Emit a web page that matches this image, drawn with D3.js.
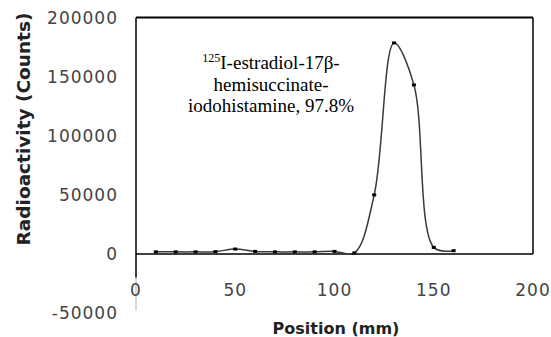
<!DOCTYPE html>
<html>
<head>
<meta charset="utf-8">
<script src="https://cdn.jsdelivr.net/npm/d3@7"></script>
<style>
  html, body { margin: 0; padding: 0; background: #fff; }
</style>
</head>
<body>
<div id="chart"></div>
<script>
const positions = [10, 20, 30, 40, 50, 60, 70, 80, 90, 100, 110, 120, 130, 140, 150, 160];
const counts = [1800, 1800, 1800, 2000, 4200, 2200, 1800, 1800, 1800, 2200, 900, 50000, 178500, 143000, 5600, 2800];
const xTicks = [0, 50, 100, 150, 200];
const yTicks = [-50000, 0, 50000, 100000, 150000, 200000];
const labelLines = ["I-estradiol-17\u03b2-", "hemisuccinate-", "iodohistamine, 97.8%"];

const width = 551, height = 337;

const svg = d3.select("#chart").append("svg")
  .attr("width", width)
  .attr("height", height);

const x = d3.scaleLinear().domain([0, 200]).range([136, 533]);
const y = d3.scaleLinear().domain([0, 200000]).range([254, 17.5]);

// frame: top and right edges
svg.append("line")
  .attr("x1", x(0)).attr("x2", x(200))
  .attr("y1", y(200000)).attr("y2", y(200000))
  .attr("stroke", "#000").attr("stroke-width", 2);
svg.append("line")
  .attr("x1", x(200)).attr("x2", x(200))
  .attr("y1", y(200000)).attr("y2", y(0))
  .attr("stroke", "#000").attr("stroke-width", 1.5);

// y axis runs below zero, fading out
svg.append("line")
  .attr("x1", x(0)).attr("x2", x(0))
  .attr("y1", y(200000)).attr("y2", y(-20000))
  .attr("stroke", "#000").attr("stroke-width", 1.5);
svg.append("line")
  .attr("x1", x(0)).attr("x2", x(0))
  .attr("y1", y(-20000)).attr("y2", y(-48000))
  .attr("stroke", "#ccc").attr("stroke-width", 1.5);

// x axis at zero
svg.append("line")
  .attr("x1", x(0)).attr("x2", x(200))
  .attr("y1", y(0)).attr("y2", y(0))
  .attr("stroke", "#000").attr("stroke-width", 1.5);

const tickFont = "DejaVu Sans, sans-serif";

svg.append("g").selectAll("text")
  .data(yTicks)
  .join("text")
  .attr("x", 118)
  .attr("y", d => y(d))
  .attr("dy", "0.36em")
  .attr("text-anchor", "end")
  .attr("font-family", tickFont)
  .attr("font-size", 17)
  .attr("letter-spacing", 1)
  .attr("fill", "#444")
  .text(d => d);

svg.append("g").selectAll("text")
  .data(xTicks)
  .join("text")
  .attr("x", d => x(d))
  .attr("y", 290)
  .attr("dy", "0.36em")
  .attr("text-anchor", "middle")
  .attr("font-family", tickFont)
  .attr("font-size", 17)
  .attr("letter-spacing", 1)
  .attr("fill", "#444")
  .text(d => d);

// axis titles
svg.append("text")
  .attr("transform", "translate(30,129) rotate(-90)")
  .attr("text-anchor", "middle")
  .attr("font-family", tickFont)
  .attr("font-weight", "bold")
  .attr("font-size", 18.5)
  .attr("fill", "#222")
  .text("Radioactivity (Counts)");

svg.append("text")
  .attr("x", 336)
  .attr("y", 334)
  .attr("text-anchor", "middle")
  .attr("font-family", tickFont)
  .attr("font-weight", "bold")
  .attr("font-size", 16)
  .attr("fill", "#222")
  .text("Position (mm)");

// the data line, smoothed
const pts = positions.map((p, i) => [p, counts[i]]);
const line = d3.line()
  .x(d => x(d[0]))
  .y(d => y(d[1]))
  .curve(d3.curveCatmullRom.alpha(0.5));

svg.append("path")
  .datum(pts)
  .attr("d", line)
  .attr("fill", "none")
  .attr("stroke", "#3a3a3a")
  .attr("stroke-width", 1.5);

svg.append("g").selectAll("rect")
  .data(pts)
  .join("rect")
  .attr("x", d => x(d[0]) - 2)
  .attr("y", d => y(d[1]) - 1.5)
  .attr("width", 4)
  .attr("height", 3)
  .attr("fill", "#000");

// annotation
const note = svg.append("text")
  .attr("font-family", "Liberation Serif, Times New Roman, serif")
  .attr("font-size", 19)
  .attr("fill", "#000")
  .attr("text-anchor", "middle");

const first = note.append("tspan").attr("x", 271).attr("y", 69);
first.append("tspan").attr("font-size", 12).attr("dy", -7).text("125");
first.append("tspan").attr("dy", 7).text(labelLines[0]);
note.append("tspan").attr("x", 271).attr("y", 91).text(labelLines[1]);
note.append("tspan").attr("x", 271).attr("y", 112).text(labelLines[2]);
</script>
</body>
</html>
